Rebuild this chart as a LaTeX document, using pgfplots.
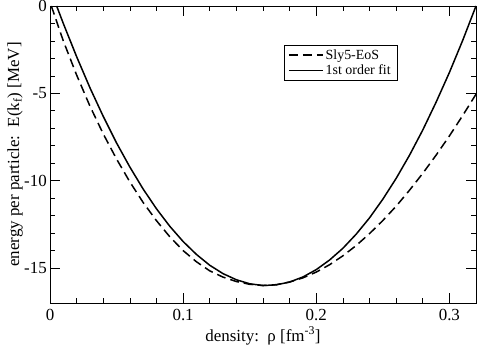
\documentclass[border=0pt]{standalone}
\usepackage{pgfplots}
\pgfplotsset{compat=1.18}
\usepackage{fontspec}
\setmainfont{Liberation Serif}
\begin{document}
\begin{tikzpicture}
\begin{axis}[
  width=426bp, height=297bp, scale only axis,
  xmin=0, xmax=0.32, ymin=-17, ymax=0,
  xtick={0,0.1,0.2,0.3}, xticklabels={0,0.1,0.2,0.3},
  ytick={-15,-10,-5,0}, yticklabels={-15,-10,-5,0},
  minor x tick num=4, minor y tick num=4,
  tick align=inside, tick pos=both,
  major tick length=10bp, minor tick length=5bp,
  every tick/.style={black, line width=0.7pt},
  axis line style={line width=0.8pt},
  tick label style={font=\fontsize{17}{20}\selectfont, inner sep=0pt},
  xticklabel style={yshift=-6bp},
  yticklabel style={xshift=-3bp},
  every axis x label/.style={at={(axis description cs:0.5,0)}, yshift=-33bp, anchor=center},
  every axis y label/.style={at={(axis description cs:0,0.5)}, xshift=-35bp, rotate=90, anchor=center},
  label style={font=\fontsize{17}{20}\selectfont},
  xlabel={density:\ \ ρ [fm\textsuperscript{-3}]},
  ylabel={energy per particle:\ \ E(k\textsubscript{f}) [MeV]},
  legend style={at={(rel axis cs:0.549,0.867)}, anchor=north west,
    font=\fontsize{14}{16}\selectfont, draw=black,
    inner xsep=4bp, inner ysep=2bp, row sep=0bp},
  legend cell align=left,
  legend image code/.code={\draw[#1, line width=1.6bp] (0bp,0bp) -- (34bp,0bp);},
]
\addplot[black, line width=1.5bp, dash pattern=on 9bp off 5bp] coordinates {
  (0.001,0) (0.01,-2.0) (0.02,-3.95) (0.03,-5.73) (0.04,-7.32)
  (0.05,-8.76) (0.06,-10.07) (0.07,-11.25) (0.08,-12.29) (0.09,-13.21)
  (0.10,-14.0) (0.11,-14.64) (0.12,-15.16) (0.13,-15.52) (0.14,-15.77)
  (0.15,-15.93) (0.16,-16.0) (0.17,-15.95) (0.18,-15.8) (0.19,-15.56)
  (0.20,-15.23) (0.21,-14.81) (0.22,-14.3) (0.23,-13.71) (0.24,-13.03)
  (0.25,-12.28) (0.26,-11.46) (0.27,-10.55) (0.28,-9.58) (0.29,-8.54)
  (0.30,-7.44) (0.31,-6.27) (0.32,-5.05)
};
\addlegendentry{Sly5-EoS}
\addplot[black, line width=1.5bp] coordinates {
  (0.005,0) (0.01,-1.0) (0.02,-2.9) (0.03,-4.68) (0.04,-6.32)
  (0.05,-7.84) (0.06,-9.22) (0.07,-10.48) (0.08,-11.61) (0.09,-12.61)
  (0.10,-13.48) (0.11,-14.22) (0.12,-14.84) (0.13,-15.32) (0.14,-15.67)
  (0.15,-15.9) (0.16,-16.0) (0.17,-15.96) (0.18,-15.8) (0.19,-15.51)
  (0.20,-15.09) (0.21,-14.54) (0.22,-13.87) (0.23,-13.06) (0.24,-12.13)
  (0.25,-11.06) (0.26,-9.87) (0.27,-8.55) (0.28,-7.1) (0.29,-5.51)
  (0.30,-3.81) (0.31,-1.97) (0.32,0)
};
\addlegendentry{1st order fit}
\end{axis}
\pgfresetboundingbox
\path ([shift={(-50bp,-45bp)}]current axis.south west) rectangle ([shift={(2bp,6bp)}]current axis.north east);
\end{tikzpicture}
\end{document}
